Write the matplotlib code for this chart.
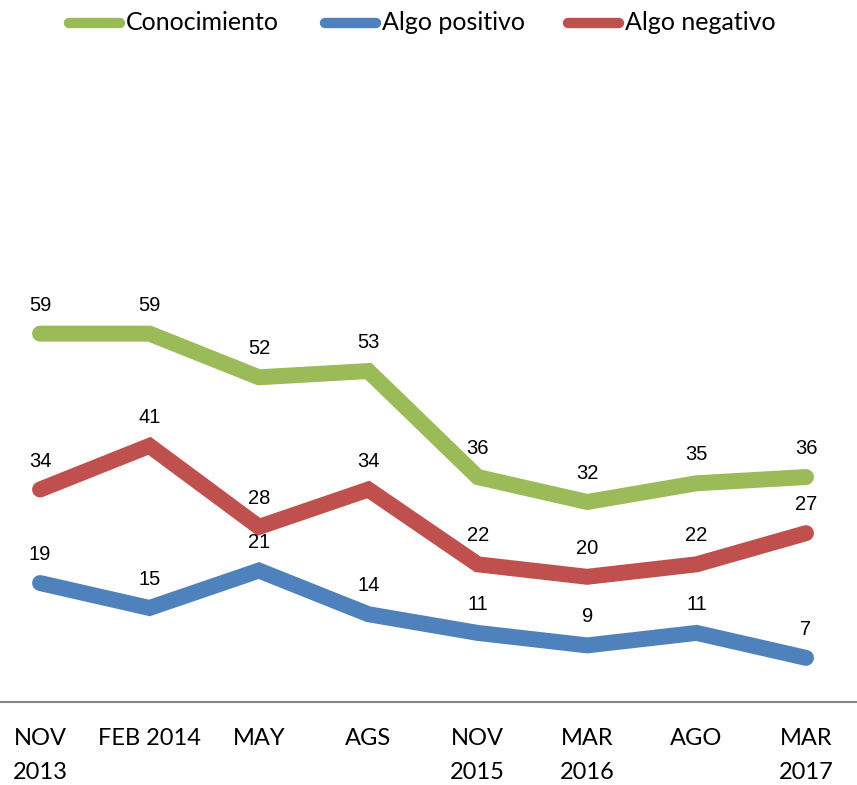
import matplotlib.pyplot as plt
from matplotlib.lines import Line2D

# Data
categories = ['NOV\n2013', 'FEB 2014', 'MAY', 'AGS', 'NOV\n2015', 'MAR\n2016', 'AGO', 'MAR\n2017']
conocimiento = [59, 59, 52, 53, 36, 32, 35, 36]
algo_positivo = [19, 15, 21, 14, 11, 9, 11, 7]
algo_negativo = [34, 41, 28, 34, 22, 20, 22, 27]

series = [
    ('Conocimiento', conocimiento, '#9BBB59'),
    ('Algo positivo', algo_positivo, '#4F81BD'),
    ('Algo negativo', algo_negativo, '#C0504D'),
]

calib = ['Lato', 'DejaVu Sans']
plain = ['Liberation Sans', 'DejaVu Sans']

W, H = 857, 785
fig = plt.figure(figsize=(W / 100, H / 100), dpi=100)
ax = fig.add_axes([0, 1 - 701.5 / H, 1, 623.5 / H])

x = list(range(len(categories)))
for name, vals, color in series:
    ax.plot(x, vals, color=color, lw=11.5, solid_capstyle='round',
            solid_joinstyle='miter', label=name)
    for xi, v in zip(x, vals):
        ax.annotate(str(v), (xi, v), xytext=(0, 20.5), textcoords='offset points',
                    ha='center', va='center', fontsize=14.5, family=plain)

ax.set_xlim(-0.366, 7.466)
ax.set_ylim(0, 100)
ax.set_xticks(x)
ax.set_xticklabels(categories, family=calib, fontsize=17, linespacing=1.78)
ax.tick_params(axis='x', length=0, pad=19)
ax.set_yticks([])
for s in ['top', 'right', 'left']:
    ax.spines[s].set_visible(False)
ax.spines['bottom'].set_color('#868686')
ax.spines['bottom'].set_linewidth(1.5)

# legend, drawn by hand at the top
leg_x = [64, 320, 563]
leg_y = 1 - 23 / H
for (name, vals, color), x0 in zip(series, leg_x):
    fig.add_artist(Line2D([(x0 + 5) / W, (x0 + 56) / W], [leg_y, leg_y],
                          color=color, lw=7.5, solid_capstyle='round'))
    fig.text((x0 + 62) / W, leg_y, name, ha='left', va='center',
             fontsize=18, family=calib)

fig.savefig('out.png', dpi=100)
